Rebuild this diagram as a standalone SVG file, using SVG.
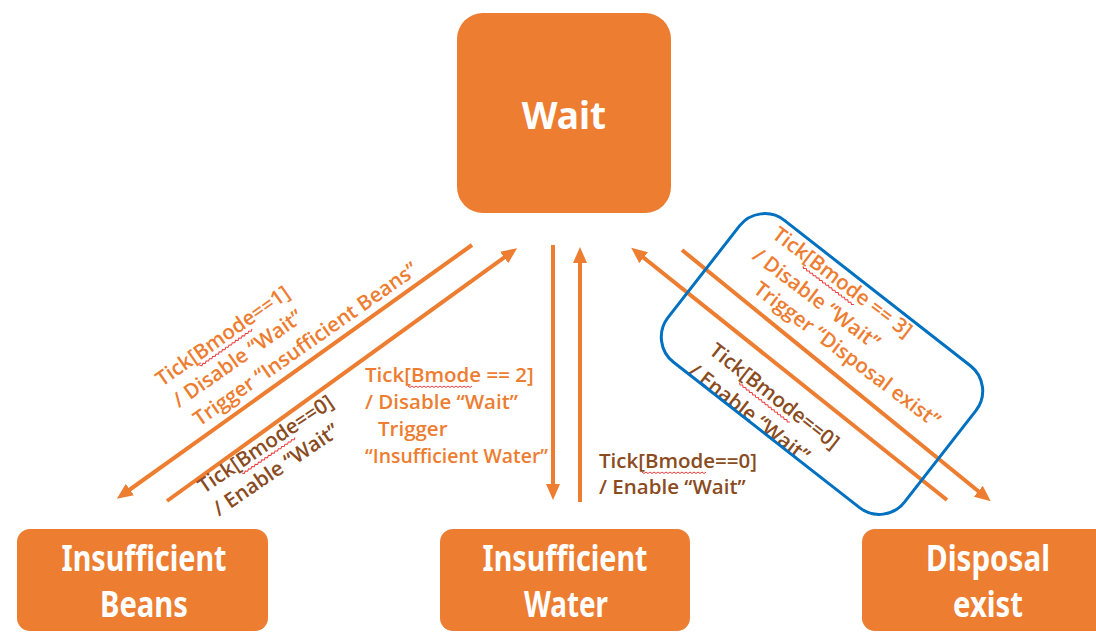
<svg xmlns="http://www.w3.org/2000/svg" width="1096" height="632" viewBox="0 0 1096 632">
<style>
.node{fill:#ED7D31}
.ntxt{fill:#fff;font-family:"Noto Sans","Open Sans","Liberation Sans",sans-serif;font-weight:bold;text-anchor:middle}
.conn{stroke:#ED7D31;stroke-width:4;fill:none}
.lbl{font-family:"Open Sans","Noto Sans","Liberation Sans",sans-serif;font-size:20.5px;font-weight:600}
.or{fill:#ED7D31}
.br{fill:#8A4B1E}
.sq{stroke:#F03C3C;stroke-width:1;fill:none}
.hl{fill:none;stroke:#0070C0;stroke-width:3}
</style>
<defs>
<marker id="ah" markerUnits="userSpaceOnUse" markerWidth="16" markerHeight="14" viewBox="0 0 16 14" refX="6" refY="7" orient="auto">
<path d="M0,0 L16,7 L0,14 z" fill="#ED7D31"/>
</marker>
<path id="sq" class="sq" d="M0,0 l2,1.5 l2,-1.5 l2,1.5 l2,-1.5 l2,1.5 l2,-1.5 l2,1.5 l2,-1.5 l2,1.5 l2,-1.5 l2,1.5 l2,-1.5 l2,1.5 l2,-1.5 l2,1.5 l2,-1.5 l2,1.5 l2,-1.5 l2,1.5 l2,-1.5 l2,1.5 l2,-1.5 l2,1.5 l2,-1.5 l2,1.5 l2,-1.5 l2,1.5 l2,-1.5 l2,1.5 l2,-1.5 l2,1.5 l2,-1.5"/>
</defs>
<rect width="1096" height="632" fill="#fff"/>

<g id="wait">
<rect class="node" x="457" y="13" width="214" height="200" rx="26"/>
<text class="ntxt" x="564" y="129" font-size="37">Wait</text>
</g>
<g id="insufficient-beans">
<rect class="node" x="17" y="529" width="251" height="102" rx="13"/>
<text class="ntxt" x="144" y="571" font-size="35" textLength="165" lengthAdjust="spacingAndGlyphs">Insufficient</text>
<text class="ntxt" x="144" y="617" font-size="35" textLength="88" lengthAdjust="spacingAndGlyphs">Beans</text>
</g>
<g id="insufficient-water">
<rect class="node" x="440" y="529" width="250" height="102" rx="13"/>
<text class="ntxt" x="565" y="571" font-size="35" textLength="165" lengthAdjust="spacingAndGlyphs">Insufficient</text>
<text class="ntxt" x="566" y="617" font-size="35" textLength="84" lengthAdjust="spacingAndGlyphs">Water</text>
</g>
<g id="disposal-exist">
<rect class="node" x="862" y="529" width="250" height="102" rx="13"/>
<text class="ntxt" x="988" y="571" font-size="35" textLength="124" lengthAdjust="spacingAndGlyphs">Disposal</text>
<text class="ntxt" x="988" y="617" font-size="35" textLength="70" lengthAdjust="spacingAndGlyphs">exist</text>
</g>

<g id="connectors">
<line class="conn" x1="472" y1="245" x2="125" y2="493" marker-end="url(#ah)"/>
<line class="conn" x1="167" y1="501" x2="509" y2="254" marker-end="url(#ah)"/>
<line class="conn" x1="553" y1="245" x2="553" y2="490" marker-end="url(#ah)"/>
<line class="conn" x1="580" y1="502" x2="580" y2="257" marker-end="url(#ah)"/>
<line class="conn" x1="947" y1="500" x2="639" y2="254" marker-end="url(#ah)"/>
<line class="conn" x1="682" y1="250" x2="983" y2="495" marker-end="url(#ah)"/>
</g>

<g id="labels">
<g transform="translate(162,387) rotate(-35)">
<text class="lbl or"><tspan x="0" y="0">Tick[Bmode==1]</tspan><tspan x="2" y="27">/ Disable “Wait”</tspan><tspan x="8" y="54">Trigger “Insufficient Beans”</tspan></text>
<use href="#sq" x="43" y="4"/>
</g>
<g transform="translate(204,494) rotate(-34)">
<text class="lbl br"><tspan x="0" y="0">Tick[Bmode==0]</tspan><tspan x="0" y="27">/ Enable “Wait”</tspan></text>
<use href="#sq" x="43" y="4"/>
</g>
<g>
<text class="lbl or"><tspan x="365" y="382">Tick[Bmode == 2]</tspan><tspan x="365" y="409">/ Disable “Wait”</tspan><tspan x="378" y="436">Trigger</tspan></text>
<text class="lbl or" x="365" y="463" textLength="183" lengthAdjust="spacingAndGlyphs">“Insufficient Water”</text>
<use href="#sq" x="408" y="386"/>
</g>
<g>
<text class="lbl br"><tspan x="599" y="468">Tick[Bmode==0]</tspan><tspan x="599" y="494">/ Enable “Wait”</tspan></text>
<use href="#sq" x="642" y="472"/>
</g>
<g transform="translate(771,237) rotate(37)">
<text class="lbl or"><tspan x="0" y="0">Tick[Bmode == 3]</tspan><tspan x="-3" y="29">/ Disable “Wait”</tspan><tspan x="18" y="55">Trigger “Disposal exist”</tspan></text>
<use href="#sq" x="43" y="4"/>
</g>
<g transform="translate(708,353) rotate(38)">
<text class="lbl br"><tspan x="0" y="0">Tick[Bmode==0]</tspan><tspan x="-4" y="29">/ Enable “Wait”</tspan></text>
<use href="#sq" x="43" y="4"/>
</g>
</g>

<rect class="hl" x="-150" y="-90" width="300" height="180" rx="32" transform="translate(822,364) rotate(38)"/>
</svg>
